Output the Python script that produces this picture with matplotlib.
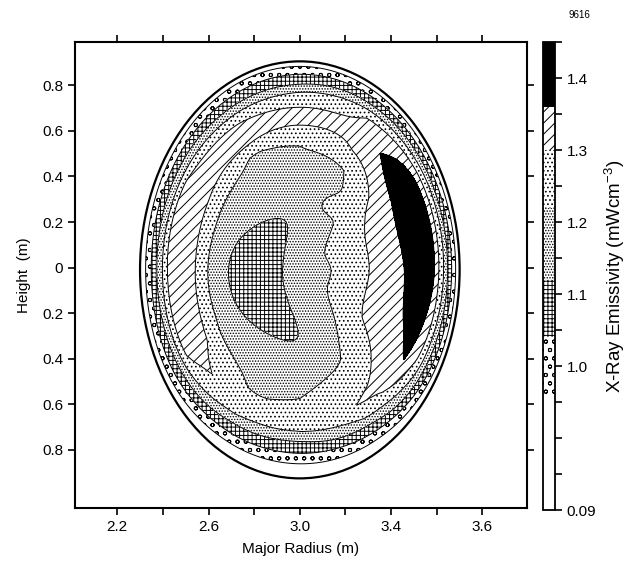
import numpy as np
import matplotlib
matplotlib.use('Agg')
import matplotlib.pyplot as plt
from matplotlib.patches import Ellipse
from matplotlib.ticker import FixedLocator, FixedFormatter, MultipleLocator

plt.rcParams['font.family'] = ['Liberation Sans', 'DejaVu Sans']
plt.rcParams['mathtext.fontset'] = 'custom'
plt.rcParams['mathtext.rm'] = 'Liberation Sans'
plt.rcParams['hatch.linewidth'] = 0.7
plt.rcParams['hatch.color'] = 'black'

# plasma boundary (m)
R0, Z0 = 3.0, -0.01
a_minor, b_minor = 0.70, 0.915

# emissivity bands (mW cm^-3) and their fill styles
levels = [0.80, 0.96, 1.04, 1.12, 1.22, 1.30, 1.36, 1.45]
hatches = ['', 'oo', '++++', '......', '....', '///', '']
fills = ['white', 'white', 'white', 'white', 'white', 'white', 'black']

# emissivity along rays from the axis: angle (deg), normalised radius, value
ray_angle = [0, 30, 60, 90, 120, 150, 180, 210, 240, 270, 300, 330]
ray_rho = [
    [0, 0.195, 0.434, 0.654, 0.75, 0.843, 0.87, 0.90, 0.925, 0.95, 0.975, 1.0],
    [0, 0.18, 0.47, 0.66, 0.75, 0.84, 0.87, 0.90, 0.925, 0.95, 0.975, 1.0],
    [0, 0.30, 0.55, 0.66, 0.75, 0.84, 0.88, 0.91, 0.945, 0.975, 1.0],
    [0, 0.30, 0.593, 0.694, 0.74, 0.78, 0.852, 0.89, 0.938, 0.976, 1.0],
    [0, 0.40, 0.62, 0.68, 0.74, 0.80, 0.85, 0.89, 0.935, 0.975, 1.0],
    [0, 0.40, 0.57, 0.66, 0.745, 0.83, 0.86, 0.90, 0.935, 0.97, 1.0],
    [0, 0.40, 0.57, 0.654, 0.74, 0.83, 0.86, 0.895, 0.93, 0.965, 1.0],
    [0, 0.40, 0.58, 0.67, 0.745, 0.82, 0.855, 0.89, 0.93, 0.965, 1.0],
    [0, 0.40, 0.65, 0.74, 0.80, 0.845, 0.895, 0.94, 1.0],
    [0, 0.40, 0.617, 0.70, 0.775, 0.823, 0.88, 0.93, 1.0],
    [0, 0.30, 0.50, 0.74, 0.82, 0.86, 0.905, 0.945, 1.0],
    [0, 0.20, 0.45, 0.70, 0.78, 0.85, 0.885, 0.915, 0.945, 0.972, 1.0],
]
ray_val = [
    [1.17, 1.22, 1.30, 1.36, 1.43, 1.36, 1.30, 1.22, 1.12, 1.04, 0.96, 0.88],
    [1.17, 1.22, 1.30, 1.36, 1.42, 1.36, 1.30, 1.22, 1.12, 1.04, 0.96, 0.88],
    [1.17, 1.19, 1.22, 1.30, 1.325, 1.30, 1.22, 1.12, 1.04, 0.96, 0.88],
    [1.17, 1.18, 1.22, 1.30, 1.33, 1.30, 1.22, 1.12, 1.04, 0.96, 0.88],
    [1.17, 1.19, 1.22, 1.30, 1.33, 1.30, 1.22, 1.12, 1.04, 0.96, 0.88],
    [1.17, 1.19, 1.22, 1.30, 1.335, 1.30, 1.22, 1.12, 1.04, 0.96, 0.88],
    [1.17, 1.19, 1.22, 1.30, 1.34, 1.30, 1.22, 1.12, 1.04, 0.96, 0.88],
    [1.17, 1.19, 1.22, 1.30, 1.32, 1.30, 1.22, 1.12, 1.04, 0.96, 0.88],
    [1.17, 1.19, 1.22, 1.27, 1.22, 1.12, 1.04, 0.96, 0.86],
    [1.17, 1.19, 1.22, 1.26, 1.22, 1.12, 1.04, 0.96, 0.86],
    [1.17, 1.19, 1.22, 1.303, 1.22, 1.12, 1.04, 0.96, 0.86],
    [1.17, 1.22, 1.30, 1.345, 1.37, 1.30, 1.22, 1.12, 1.04, 0.96, 0.88],
]

# hollow core: bean-shaped dip about a curved centre line R = Rm + k1*dz + k2*dz^2
core_Rm, core_Zm = 2.795, -0.055
core_k1, core_k2 = -0.12, 1.8
core_wR, core_wZ = 0.15, 0.31
core_depth = 0.10
# small bay of higher emissivity on the upper right of the core
bay_R, bay_Z, bay_wR, bay_wZ, bay_amp = 3.15, 0.27, 0.06, 0.04, 0.07

# build the 2-D map on a grid (rays blended around in angle with Catmull-Rom)
R = np.linspace(2.25, 3.75, 520)
Z = np.linspace(-0.96, 0.94, 640)
Rg, Zg = np.meshgrid(R, Z)
u = (Rg - R0) / a_minor
v = (Zg - Z0) / b_minor
rho = np.hypot(u, v)
theta = np.degrees(np.arctan2(v, u)) % 360

rows = np.array([np.interp(rho, r, e) for r, e in zip(ray_rho, ray_val)])
n = len(ray_angle)
step = 360.0 / n
pos = theta / step
i1 = np.floor(pos).astype(int) % n
t = pos - np.floor(pos)
pick = lambda idx: np.take_along_axis(rows, idx[None], axis=0)[0]
p0, p1, p2, p3 = pick((i1 - 1) % n), pick(i1), pick((i1 + 1) % n), pick((i1 + 2) % n)
emis = 0.5 * (2 * p1 + (p2 - p0) * t + (2 * p0 - 5 * p1 + 4 * p2 - p3) * t ** 2
              + (3 * p1 - p0 - 3 * p2 + p3) * t ** 3)

dz = Zg - core_Zm
Rc = core_Rm + core_k1 * dz + core_k2 * dz ** 2
q = ((Rg - Rc) / core_wR) ** 2 + np.abs(dz / core_wZ) ** 3
emis = emis - core_depth * np.exp(-q ** 2)
emis = emis + bay_amp * np.exp(-((Rg - bay_R) / bay_wR) ** 2 - ((Zg - bay_Z) / bay_wZ) ** 2)

fig = plt.figure(figsize=(6.28, 5.65), dpi=100)
ax = fig.add_axes([0.1194, 0.1009, 0.7197, 0.8248])

cs = ax.contourf(Rg, Zg, emis, levels=levels, colors=fills, hatches=hatches)
cs.set_clip_path(Ellipse((R0, Z0), 2 * a_minor, 2 * b_minor, transform=ax.transData))
cl = ax.contour(Rg, Zg, emis, levels=levels[1:-1], colors='k', linewidths=0.7)
cl.set_clip_path(Ellipse((R0, Z0), 2 * a_minor, 2 * b_minor, transform=ax.transData))
ax.add_patch(Ellipse((R0, Z0), 2 * a_minor, 2 * b_minor, fill=False, lw=1.6, color='k'))

ax.set_xlim(2.015, 3.995)
ax.set_ylim(-1.055, 0.99)
ax.xaxis.set_major_locator(FixedLocator([2.2, 2.6, 3.0, 3.4, 3.8]))
ax.xaxis.set_major_formatter(FixedFormatter(['2.2', '2.6', '3.0', '3.4', '3.6']))
ax.xaxis.set_minor_locator(FixedLocator([2.4, 2.8, 3.2, 3.6]))
yt = [0.8, 0.6, 0.4, 0.2, 0.0, -0.2, -0.4, -0.6, -0.8]
ax.yaxis.set_major_locator(FixedLocator(yt))
ax.yaxis.set_major_formatter(FixedFormatter(['0.8', '0.6', '0.4', '0.2', '0', '0.2', '0.4', '0.6', '0.8']))
ax.tick_params(which='both', direction='out', length=5, width=1.2, labelsize=11,
               top=True, right=True)
for s in ax.spines.values():
    s.set_linewidth(1.5)
ax.set_xlabel('Major Radius (m)', fontsize=11, labelpad=6)
ax.set_ylabel('Height  (m)', fontsize=11, labelpad=8)

cax = fig.add_axes([0.8646, 0.0973, 0.019, 0.828])
cb = fig.colorbar(cs, cax=cax, spacing='proportional')
cb.set_ticks([0.8, 1.0, 1.1, 1.2, 1.3, 1.4])
cb.set_ticklabels(['0.09', '1.0', '1.1', '1.2', '1.3', '1.4'])
cb.ax.yaxis.set_minor_locator(MultipleLocator(0.05))
cb.ax.tick_params(which='both', direction='out', length=5, width=1.2, labelsize=11)
cb.outline.set_linewidth(1.3)
cb.set_label('X-Ray Emissivity (mWcm$^{-3}$)', fontsize=13.5, labelpad=4)

fig.text(0.905, 0.968, '9616', fontsize=7)

fig.savefig('out.png', dpi=100)
